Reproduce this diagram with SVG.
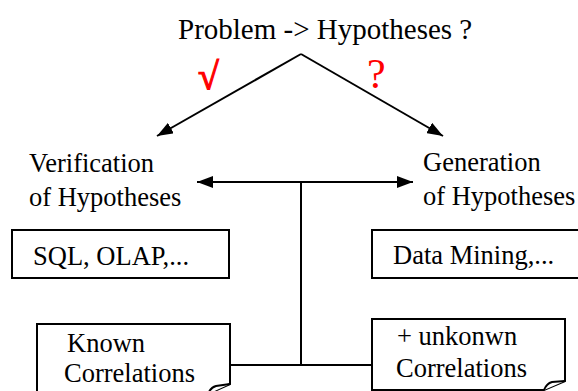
<svg xmlns="http://www.w3.org/2000/svg" width="578" height="391" viewBox="0 0 578 391">
<defs>
<style>
text{font-family:'Liberation Serif','Times New Roman',serif}
.t{font-size:26.5px;fill:#000}
.ln{stroke:#000;stroke-width:2;fill:none}
.box{stroke:#000;stroke-width:2;fill:#fff}
.red{fill:#f00}
</style>
<marker id="ah2" viewBox="0 0 16 12" refX="16" refY="6" markerWidth="16" markerHeight="12" markerUnits="userSpaceOnUse" orient="auto">
<path d="M0,0 L16,6 L0,12 Z" fill="#000"/>
</marker>
</defs>
<rect width="578" height="391" fill="#fff"/>
<g id="connectors">
<path class="ln" d="M301,54 L157,136" marker-end="url(#ah2)"/>
<path class="ln" d="M301,54 L443,136" marker-end="url(#ah2)"/>
<path class="ln" d="M301,182 L197,182" marker-end="url(#ah2)"/>
<path class="ln" d="M301,182 L413,182" marker-end="url(#ah2)"/>
<path class="ln" d="M301,182 V365"/>
<path class="ln" d="M230,365 H372"/>
</g>
<g id="title"><text x="178" y="39" style="font-size:29px">Problem -&gt; Hypotheses ?</text></g>
<g id="check"><text class="red" x="198" y="89" style="font-size:38px;font-weight:bold;stroke:#f00;stroke-width:1.2">√</text></g>
<g id="question"><text class="red" x="367" y="88" style="font-size:42px">?</text></g>
<g id="verification">
<text class="t" x="29" y="172">Verification</text>
<text class="t" x="29" y="206">of Hypotheses</text>
</g>
<g id="generation">
<text class="t" x="423" y="171">Generation</text>
<text class="t" x="423" y="205">of Hypotheses</text>
</g>
<g id="sql">
<rect class="box" x="12" y="230" width="217" height="48"/>
<text class="t" x="33" y="265">SQL, OLAP,...</text>
</g>
<g id="datamining">
<rect class="box" x="372" y="230" width="220" height="48"/>
<text class="t" x="393" y="264">Data Mining,...</text>
</g>
<g id="known">
<path class="box" d="M37,324 H230 V384 L208,394 H37 Z"/>
<path class="box" d="M208,394 C210,389 212,387 216,386 L230,384"/>
<text class="t" x="67" y="352">Known</text>
<text class="t" x="64" y="382">Correlations</text>
</g>
<g id="unknown">
<path class="box" d="M372,319 H565 V381 L544,390 H372 Z"/>
<path class="box" d="M544,390 C546,385 548,383 552,382 L565,381"/>
<text class="t" x="397" y="345">+ unkonwn</text>
<text class="t" x="396" y="377">Correlations</text>
</g>
</svg>
